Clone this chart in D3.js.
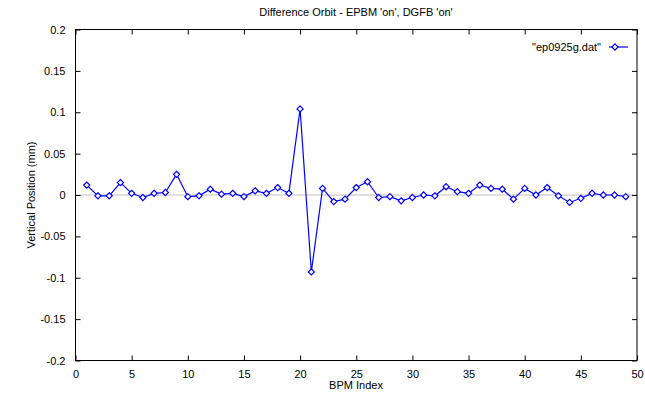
<!DOCTYPE html>
<meta charset="utf-8">
<style>
body { margin: 0; background: #fff; }
text { font-family: "Liberation Sans", Arial, sans-serif; font-size: 11px; fill: #000; }
</style>
<body>
<script src="https://cdn.jsdelivr.net/npm/d3@7"></script>
<script>
// BPM index 1..49, vertical difference orbit (mm)
var bpm = d3.range(1, 50);
var ypos = [0.012, -0.001, -0.001, 0.015, 0.002, -0.003, 0.002, 0.003, 0.025, -0.002,
            -0.001, 0.007, 0.001, 0.002, -0.002, 0.005, 0.002, 0.009, 0.002, 0.104,
            -0.093, 0.008, -0.008, -0.005, 0.009, 0.016, -0.003, -0.002, -0.007, -0.003,
            0.000, -0.001, 0.010, 0.004, 0.002, 0.012, 0.008, 0.007, -0.005, 0.008,
            0.000, 0.009, -0.001, -0.009, -0.004, 0.002, 0.000, 0.000, -0.002];
var xticks = [0, 5, 10, 15, 20, 25, 30, 35, 40, 45, 50];
var yticks = [-0.2, -0.15, -0.1, -0.05, 0, 0.05, 0.1, 0.15, 0.2];

var W = 645, H = 397,
    pl = 75.5, pr = 637, pt = 29.5, pb = 360.5,
    blue = "#0000ff";

var svg = d3.select("body").append("svg")
    .attr("width", W)
    .attr("height", H);

var x = d3.scaleLinear().domain([0, 50]).range([pl, pr]);
var y = d3.scaleLinear().domain([-0.2, 0.2]).range([pb, pt]);

// zero axis
svg.append("line")
    .attr("x1", pl).attr("x2", pr)
    .attr("y1", y(0)).attr("y2", y(0))
    .attr("stroke", "#c0c0c0").attr("stroke-width", 1);

// axes: inward ticks, mirrored
function styleAxis(g) {
    g.select(".domain").remove();
    g.selectAll(".tick line").attr("stroke", "#000");
    g.selectAll("text").style("font-family", "Liberation Sans, Arial, sans-serif").style("font-size", "11px").attr("fill", "#000");
}
svg.append("g").attr("transform", "translate(0," + pb + ")")
    .call(d3.axisBottom(x).tickValues(xticks).tickSizeInner(-5).tickPadding(10).tickFormat(d3.format("d")))
    .call(styleAxis);
svg.append("g").attr("transform", "translate(0," + pt + ")")
    .call(d3.axisTop(x).tickValues(xticks).tickSizeInner(-5).tickFormat(""))
    .call(styleAxis);
svg.append("g").attr("transform", "translate(" + pl + ",0)")
    .call(d3.axisLeft(y).tickValues(yticks).tickSizeInner(-5).tickPadding(10).tickFormat(function(d) { return String(+d.toFixed(2)); }))
    .call(styleAxis);
svg.append("g").attr("transform", "translate(" + pr + ",0)")
    .call(d3.axisRight(y).tickValues(yticks).tickSizeInner(-5).tickFormat(""))
    .call(styleAxis);

svg.append("rect")
    .attr("x", pl).attr("y", pt)
    .attr("width", pr - pl).attr("height", pb - pt)
    .attr("fill", "none").attr("stroke", "#000").attr("stroke-width", 1);

// data
var line = d3.line().x(function(d, i) { return x(bpm[i]); }).y(function(d) { return y(d); });
svg.append("path").datum(ypos)
    .attr("d", line)
    .attr("fill", "none").attr("stroke", blue).attr("stroke-width", 1.2);

var diamond = d3.symbol().type(d3.symbolDiamond2).size(24);
svg.selectAll(".pt").data(ypos).enter().append("path")
    .attr("class", "pt")
    .attr("transform", function(d, i) { return "translate(" + x(bpm[i]) + "," + y(d) + ")"; })
    .attr("d", diamond)
    .attr("fill", "#fff").attr("stroke", blue).attr("stroke-width", 1.2);

// titles
svg.append("text").attr("x", 356).attr("y", 16).attr("text-anchor", "middle")
    .text("Difference Orbit - EPBM 'on', DGFB 'on'");
svg.append("text").attr("x", 356).attr("y", 389).attr("text-anchor", "middle")
    .text("BPM Index");
svg.append("text").attr("transform", "translate(35," + (pt + pb) / 2 + ") rotate(-90)")
    .attr("text-anchor", "middle")
    .text("Vertical Position (mm)");

// legend
var ly = 47;
svg.append("text").attr("x", 601).attr("y", ly + 4).attr("text-anchor", "end")
    .text("\"ep0925g.dat\"");
svg.append("line").attr("x1", 609).attr("x2", 628).attr("y1", ly).attr("y2", ly)
    .attr("stroke", blue).attr("stroke-width", 1.2);
svg.append("path").attr("transform", "translate(615," + ly + ")").attr("d", diamond)
    .attr("fill", "#fff").attr("stroke", blue).attr("stroke-width", 1.2);
</script>
</body>
